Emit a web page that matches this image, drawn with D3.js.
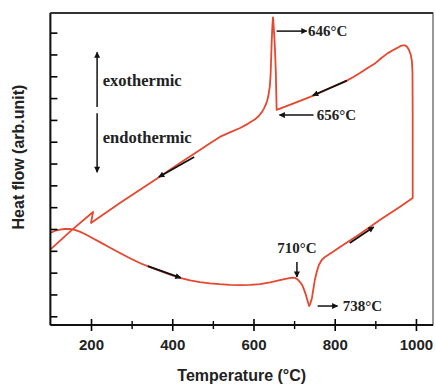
<!DOCTYPE html>
<html>
<head>
<meta charset="utf-8">
<script src="https://cdn.jsdelivr.net/npm/d3@7"></script>
<style>
body { margin: 0; background: #fff; }
svg { display: block; }
</style>
</head>
<body>
<svg id="chart" width="436" height="385"></svg>
<script>
// DSC loop: heating then cooling, one continuous path [T (°C), heat flow (arb.)]
var heating = [
    [101, 3.83], [112, 3.92], [124, 3.97], [135, 4.0], [143, 4.0], [152, 3.99],
    [160, 3.96], [172, 3.88], [185, 3.77], [203, 3.59], [222, 3.40], [246, 3.15],
    [271, 2.90], [296, 2.66], [320, 2.44], [345, 2.25], [370, 2.08], [395, 1.91],
    [419, 1.76], [444, 1.65], [468, 1.57], [493, 1.51], [517, 1.47], [542, 1.44],
    [567, 1.43], [592, 1.44], [616, 1.47], [641, 1.55], [665, 1.66], [682, 1.73],
    [695, 1.77], [702, 1.76], [708, 1.70], [714, 1.58], [720, 1.43], [725, 1.2],
    [729, 0.98], [733, 0.72], [737, 0.47], [740, 0.58], [744, 0.84], [747, 1.2],
    [751, 1.66], [756, 2.05], [761, 2.35], [768, 2.58], [776, 2.72], [795, 2.95],
    [813, 3.18], [862, 3.77], [911, 4.41], [960, 5.01], [992, 5.42]
];
var turn = [
    [992, 9.0], [991.5, 11.2], [990, 11.7], [987, 12.0], [983, 12.2], [978, 12.35],
    [973, 12.42], [968, 12.42]
];
var cooling = [
    [961, 12.38], [954, 12.3], [942, 12.18], [930, 12.05], [915, 11.84], [900, 11.6],
    [880, 11.37], [862, 11.15], [846, 10.97], [830, 10.8], [808, 10.62], [788, 10.45],
    [746, 10.1], [702, 9.78], [657, 9.46], [656, 10.3], [655, 11.2], [653, 12.2],
    [651, 12.9], [649, 13.5], [648, 13.7], [646.5, 13.3], [645, 12.66], [643.5, 11.8],
    [642, 11.0], [640, 10.5], [637, 10.15], [634, 9.9], [631, 9.73], [626, 9.53],
    [621, 9.37], [613, 9.18], [604, 9.03], [586, 8.82], [567, 8.63], [542, 8.43],
    [517, 8.22], [493, 7.93], [468, 7.62], [419, 7.03], [357, 6.25], [271, 5.19],
    [200, 4.28], [205, 4.78], [153, 3.96], [101, 3.08]
];

// direction arrows drawn on the curve
var curveArrows = [
    [[830, 10.8], [746, 10.12]],
    [[454, 7.3], [367, 6.38]],
    [[340, 2.3], [421, 1.76]],
    [[837, 3.36], [896, 4.09]]
];

// annotation arrows and texts
var noteArrows = [
    [[657, 13.07], [731, 13.07]],
    [[748, 9.22], [664, 9.22]],
    [[707, 2.49], [707, 1.80]],
    [[758, 0.47], [807, 0.47]],
    [[215, 9.59], [215, 12.1]],
    [[215, 9.31], [215, 6.6]]
];
var notes = [
    { t: 734, v: 12.85, text: "646°C", anchor: "start", size: 15 },
    { t: 756, v: 9.0, text: "656°C", anchor: "start", size: 15 },
    { t: 707, v: 2.9, text: "710°C", anchor: "middle", size: 15 },
    { t: 820, v: 0.24, text: "738°C", anchor: "start", size: 15 },
    { t: 229, v: 10.55, text: "exothermic", anchor: "start", size: 16.5 },
    { t: 229, v: 7.94, text: "endothermic", anchor: "start", size: 16.5 }
];

var xMajor = [200, 400, 600, 800, 1000];
var xMinor = [300, 500, 700, 900];
var yTicks = d3.range(0, 14);

// ---------------------------------------------------------------------------

var W = 436, H = 385;
var m = { top: 13, right: 3, bottom: 60, left: 50.4 };

var svg = d3.select("#chart");

var x = d3.scaleLinear().domain([100, 1042]).range([m.left, W - m.right]);
var y = d3.scaleLinear().domain([-0.4, 13.9]).range([H - m.bottom, m.top]);

svg.append("defs").append("marker")
    .attr("id", "head")
    .attr("viewBox", "0 0 10 10")
    .attr("refX", 9).attr("refY", 5)
    .attr("markerWidth", 9).attr("markerHeight", 6)
    .attr("markerUnits", "userSpaceOnUse")
    .attr("orient", "auto")
    .append("path")
    .attr("d", "M0,0L10,5L0,10z")
    .attr("fill", "#111");

// frame
svg.append("rect")
    .attr("x", x(100)).attr("y", y(13.9))
    .attr("width", x(1042) - x(100)).attr("height", y(-0.4) - y(13.9))
    .attr("fill", "none").attr("stroke", "#555").attr("stroke-width", 1.2);

var line = d3.line()
    .x((d) => x(d[0]))
    .y((d) => y(d[1]));

svg.append("path")
    .datum(heating.concat(turn, cooling))
    .attr("d", line)
    .attr("fill", "none")
    .attr("stroke", "#e5472f")
    .attr("stroke-width", 1.8)
    .attr("stroke-linejoin", "round");

svg.selectAll("line.dir")
    .data(curveArrows)
    .enter()
    .append("line")
    .attr("class", "dir")
    .attr("x1", (d) => x(d[0][0])).attr("y1", (d) => y(d[0][1]))
    .attr("x2", (d) => x(d[1][0])).attr("y2", (d) => y(d[1][1]))
    .attr("stroke", "#111").attr("stroke-width", 1.8)
    .attr("marker-end", "url(#head)");

svg.selectAll("line.note")
    .data(noteArrows)
    .enter()
    .append("line")
    .attr("class", "note")
    .attr("x1", (d) => x(d[0][0])).attr("y1", (d) => y(d[0][1]))
    .attr("x2", (d) => x(d[1][0])).attr("y2", (d) => y(d[1][1]))
    .attr("stroke", "#111").attr("stroke-width", 1.5)
    .attr("marker-end", "url(#head)");

svg.selectAll("text.note")
    .data(notes)
    .enter()
    .append("text")
    .attr("class", "note")
    .attr("x", (d) => x(d.t)).attr("y", (d) => y(d.v))
    .attr("text-anchor", (d) => d.anchor)
    .attr("font-family", "'Liberation Serif', 'Times New Roman', serif")
    .attr("font-weight", "bold")
    .attr("font-size", (d) => d.size)
    .attr("fill", "#222")
    .text((d) => d.text);

// axes
var bottom = H - m.bottom;
var gx = svg.append("g").attr("transform", "translate(0," + bottom + ")");
gx.call(d3.axisBottom(x).tickValues(xMajor).tickSize(6).tickPadding(8)
    .tickFormat(d3.format("d")));
gx.call((g) => g.select(".domain").remove());
gx.selectAll(".tick line").attr("y1", -6).attr("stroke-width", 1.6);
gx.selectAll("text")
    .attr("font-family", "'Liberation Sans', Arial, sans-serif")
    .attr("font-weight", "bold").attr("font-size", 15).attr("fill", "#222");

var gm = svg.append("g").attr("transform", "translate(0," + bottom + ")");
gm.call(d3.axisBottom(x).tickValues(xMinor).tickSize(4).tickFormat(""));
gm.call((g) => g.select(".domain").remove());
gm.selectAll(".tick line").attr("y1", -4).attr("stroke-width", 1.4);

var gy = svg.append("g").attr("transform", "translate(" + m.left + ",0)");
gy.call(d3.axisLeft(y).tickValues(yTicks).tickSize(-7).tickFormat(""));
gy.call((g) => g.select(".domain").remove());
gy.selectAll(".tick line").attr("stroke-width", 1.6);

svg.append("line")
    .attr("x1", x(100)).attr("x2", x(1042)).attr("y1", bottom).attr("y2", bottom)
    .attr("stroke", "#111").attr("stroke-width", 2);
svg.append("line")
    .attr("x1", m.left).attr("x2", m.left).attr("y1", y(13.9)).attr("y2", bottom)
    .attr("stroke", "#111").attr("stroke-width", 2);
svg.append("line")
    .attr("x1", x(100)).attr("x2", x(1042)).attr("y1", m.top).attr("y2", m.top)
    .attr("stroke", "#333").attr("stroke-width", 1.8);

svg.append("text")
    .attr("x", (x(100) + x(1042)) / 2).attr("y", 381)
    .attr("text-anchor", "middle")
    .attr("font-family", "'Liberation Sans', Arial, sans-serif")
    .attr("font-weight", "bold").attr("font-size", 16).attr("fill", "#222")
    .text("Temperature (°C)");

svg.append("text")
    .attr("transform", "translate(24," + 157 + ") rotate(-90)")
    .attr("text-anchor", "middle")
    .attr("font-family", "'Liberation Sans', Arial, sans-serif")
    .attr("font-weight", "bold").attr("font-size", 16).attr("fill", "#222")
    .text("Heat flow (arb.unit)");
</script>
</body>
</html>
